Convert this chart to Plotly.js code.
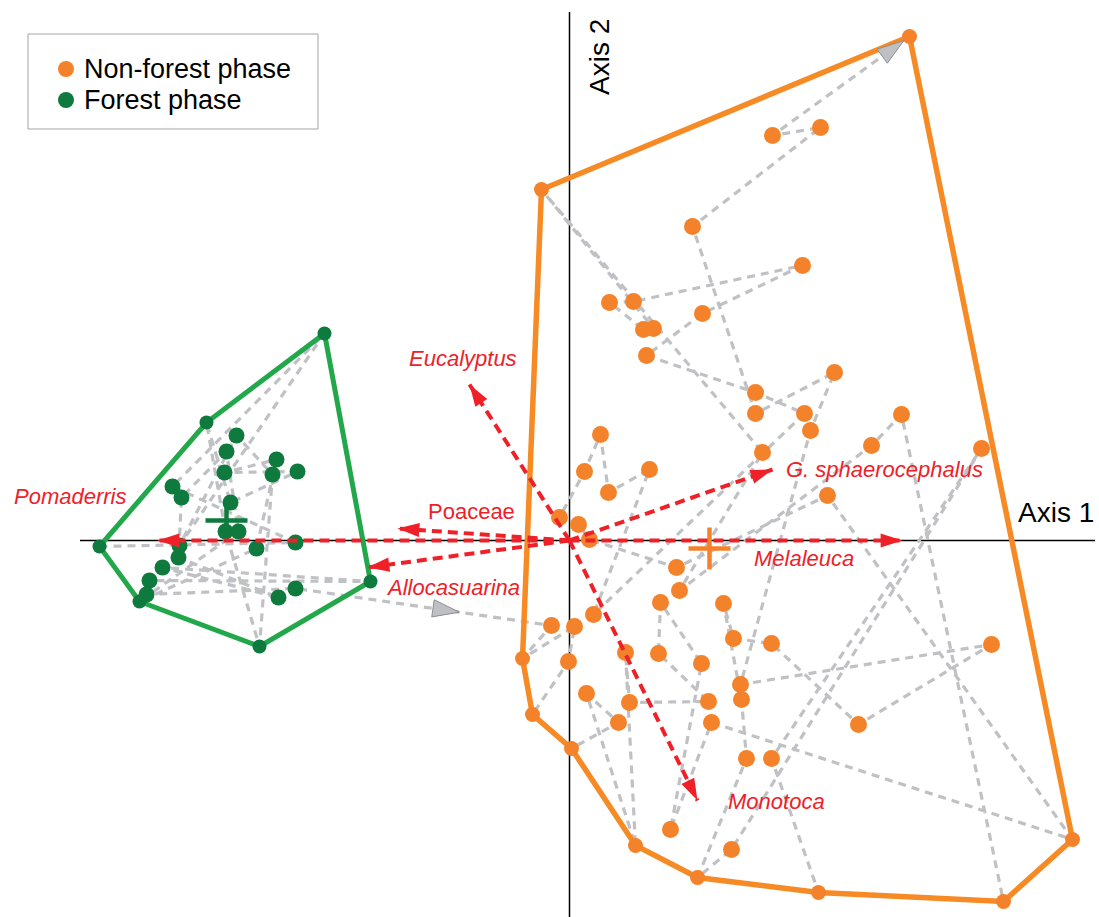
<!DOCTYPE html>
<html>
<head>
<meta charset="utf-8">
<script src="https://cdn.plot.ly/plotly-3.0.1.min.js"></script>
<style>
  html, body { margin: 0; padding: 0; background: #fff; }
  #chart { width: 1099px; height: 917px; }
</style>
</head>
<body>
<div id="chart"></div>
<script>
// Ordination scores of the core samples, listed in stratigraphic order.
// Non-forest phase (axis 1, axis 2)
const nonForestAxis1 = [-0.18, -0.47, 0.05, -0.01, -0.37, 0.02, 0.49, 0.17, 0.66, 0.56,
  0.60, 1.39, 0.89, 0.91, 1.32, 1.01, 1.42, 5.03, 2.58, 1.07,
  0.20, 0.09, -0.10, 0.15, 0.31, 0.39, 0.80, 0.24, 2.35, 1.86,
  0.77, 1.33, 2.33, 0.64, 0.40, 0.74, 0.84, -0.28, 1.93, 1.10,
  3.02, 3.32, 4.34, 2.49, 2.02, 4.12, 1.62, 1.28, 1.77, 1.72,
  1.54, 1.64, 2.02, 2.89, 4.22, 1.71, 2.41, 2.65, 1.86, 1.23,
  2.51, 2.03, 3.40];
const nonForestAxis2 = [-0.85, -1.18, -0.86, -1.21, -1.74, -2.08, -1.82, -1.53, -3.05, -1.12,
  -1.62, -1.61, -1.13, -0.62, -1.23, -2.89, -1.82, -2.99, 0.45, -0.27,
  0.01, 0.16, 0.23, 0.69, 1.06, 0.48, 0.71, -0.74, 1.27, 1.48,
  1.85, 2.27, 2.75, 2.39, 2.38, 2.11, 2.12, 3.51, 0.88, -0.50,
  0.95, 1.26, -3.61, -3.52, -2.18, 0.92, -3.09, -3.37, -2.18, -1.59,
  -0.63, -0.98, -1.03, -1.84, -1.04, -1.44, 1.10, 1.68, 1.27, 3.14,
  4.13, 4.05, 5.04];

// Forest phase (axis 1, axis 2)
const forestAxis1 = [-4.70, -2.74, -3.97, -2.45, -3.90, -3.33, -2.97, -3.10, -3.44, -3.63,
  -3.39, -2.72, -3.45, -2.93, -3.13, -4.30, -3.31, -3.43, -3.88, -3.91,
  -2.91, -4.07, -1.99, -4.20, -4.23, -2.74];
const forestAxis2 = [-0.06, -0.02, 0.54, 2.07, -0.05, 1.05, 0.66, -1.06, 0.09, 1.18,
  0.38, 0.69, 0.68, 0.81, -0.08, -0.61, 0.09, 0.89, 0.43, -0.17,
  -0.57, -0.27, -0.41, -0.40, -0.54, -0.48];

// Samples forming the convex hull of each phase (indices into the lists above)
const nonForestHull = [62, 37, 1, 4, 5, 8, 47, 43, 42, 17];
const forestHull = [3, 22, 7, 15, 0, 9];

// Phase names and centroids: [non-forest, forest]
const phases = ['Non-forest phase', 'Forest phase'];
const centroidAxis1 = [1.40, -3.43];
const centroidAxis2 = [-0.08, 0.20];

// Taxon vectors
const taxa = ['Eucalyptus', 'Poaceae', 'Allocasuarina', 'Pomaderris', 'G. sphaerocephalus', 'Melaleuca', 'Monotoca'];
const taxonAxis1 = [-1.00, -1.72, -2.02, -4.12, 2.03, 3.33, 1.28];
const taxonAxis2 = [1.56, 0.12, -0.27, 0.00, 0.71, 0.00, -2.60];

// ---------------------------------------------------------------- layout
const W = 1099, H = 917;
const xRange = [-5.695, 5.295];
const yRange = [-3.765, 5.405];
const pxX = W / (xRange[1] - xRange[0]);
const pxY = H / (yRange[1] - yRange[0]);

const ORANGE = '#f4822a';
const ORANGE_HULL = '#f68b26';
const GREEN = '#0f7a3d';
const GREEN_HULL = '#22a84b';
const GREY = '#c0c1c4';
const RED = '#ee2128';
const FONT = 'Liberation Sans, Arial, Helvetica, sans-serif';
const phaseColors = [ORANGE, GREEN];

// label placement relative to each vector tip, in pixels [right, up]
const labelShift = {
  'Eucalyptus': [-7, 26],
  'Poaceae': [74, 17],
  'Allocasuarina': [85, -20],
  'Pomaderris': [-88, 44],
  'G. sphaerocephalus': [112, 0],
  'Melaleuca': [-99, -18],
  'Monotoca': [79, -1]
};
const uprightLabels = new Set(['Poaceae']);

// clockwise angle from "up" for a screen direction given in data units
function headAngle(dx, dy) {
  return Math.atan2(dx * pxX, dy * pxY) * 180 / Math.PI;
}

function hullPath(xs, ys, idx) {
  const px = idx.map(i => xs[i]);
  const py = idx.map(i => ys[i]);
  px.push(px[0]); py.push(py[0]);
  return { x: px, y: py };
}

const traces = [];

// sample trajectory: forest samples first, then on into the non-forest phase
const trajX = forestAxis1.concat(nonForestAxis1);
const trajY = forestAxis2.concat(nonForestAxis2);
traces.push({
  type: 'scatter', mode: 'lines', x: trajX, y: trajY,
  line: { color: GREY, width: 3.2, dash: '8px,6px' },
  hoverinfo: 'skip', showlegend: false
});

// convex hulls
const gh = hullPath(forestAxis1, forestAxis2, forestHull);
traces.push({
  type: 'scatter', mode: 'lines', x: gh.x, y: gh.y,
  line: { color: GREEN_HULL, width: 5 }, showlegend: false, hoverinfo: 'skip'
});
const oh = hullPath(nonForestAxis1, nonForestAxis2, nonForestHull);
traces.push({
  type: 'scatter', mode: 'lines', x: oh.x, y: oh.y,
  line: { color: ORANGE_HULL, width: 5.5 }, showlegend: false, hoverinfo: 'skip'
});

// direction arrows on the trajectory: phase change, and the final step
const lastF = forestAxis1.length - 1;
const bx0 = forestAxis1[lastF], by0 = forestAxis2[lastF];
const bx1 = nonForestAxis1[0], by1 = nonForestAxis2[0];
const tB = 0.64;
const n = nonForestAxis1.length;
const ex0 = nonForestAxis1[n - 2], ey0 = nonForestAxis2[n - 2];
const ex1 = nonForestAxis1[n - 1], ey1 = nonForestAxis2[n - 1];
const segPx = Math.hypot((ex1 - ex0) * pxX, (ey1 - ey0) * pxY);
const tE = 1 - 7 / segPx;

// sample points
const nfSizes = nonForestAxis1.map((_, i) => nonForestHull.includes(i) ? 15 : 17);
const fSizes = forestAxis1.map((_, i) => forestHull.includes(i) ? 14 : 16);
traces.push({
  type: 'scatter', mode: 'markers', name: phases[0],
  x: nonForestAxis1, y: nonForestAxis2,
  marker: { color: ORANGE, size: nfSizes, opacity: 1, line: { width: 0 } },
  showlegend: false
});
traces.push({
  type: 'scatter', mode: 'markers', name: phases[1],
  x: forestAxis1, y: forestAxis2,
  marker: { color: GREEN, size: fSizes, opacity: 1, line: { width: 0 } },
  showlegend: false
});

// centroids
traces.push({
  type: 'scatter', mode: 'markers', x: centroidAxis1, y: centroidAxis2,
  marker: { symbol: 'cross-thin', size: 30, opacity: 1, line: { width: 4.5, color: phaseColors } },
  showlegend: false, hoverinfo: 'skip'
});

traces.push({
  type: 'scatter', mode: 'markers',
  x: [bx0 + (bx1 - bx0) * tB, ex0 + (ex1 - ex0) * tE],
  y: [by0 + (by1 - by0) * tB, ey0 + (ey1 - ey0) * tE],
  marker: {
    symbol: 'arrow', size: 28, color: '#bfc0c3', opacity: 1,
    angle: [headAngle(bx1 - bx0, by1 - by0), headAngle(ex1 - ex0, ey1 - ey0)],
    line: { color: '#8d8e92', width: 1 }
  },
  showlegend: false, hoverinfo: 'skip'
});

// taxon vectors from the origin
taxa.forEach((t, i) => {
  traces.push({
    type: 'scatter', mode: 'lines', x: [0, taxonAxis1[i]], y: [0, taxonAxis2[i]],
    line: { color: RED, width: 4, dash: '10px,6px' },
    showlegend: false, hoverinfo: 'skip'
  });
});
traces.push({
  type: 'scatter', mode: 'markers', x: taxonAxis1, y: taxonAxis2,
  marker: {
    symbol: 'arrow', size: 23, color: RED, opacity: 1,
    angle: taxonAxis1.map((x, i) => headAngle(x, taxonAxis2[i])),
    line: { width: 0 }
  },
  showlegend: false, hoverinfo: 'skip'
});

const annotations = taxa.map((t, i) => ({
  x: taxonAxis1[i], y: taxonAxis2[i], xref: 'x', yref: 'y',
  text: t, showarrow: false,
  xshift: labelShift[t][0], yshift: labelShift[t][1],
  xanchor: 'center', yanchor: 'middle',
  font: { family: FONT, size: 22, color: RED, style: uprightLabels.has(t) ? 'normal' : 'italic' }
}));
annotations.push({
  xref: 'paper', yref: 'paper', x: 1016 / W, y: 1 - 512 / H,
  text: 'Axis 1', showarrow: false, xanchor: 'left', yanchor: 'middle',
  font: { family: FONT, size: 28, color: '#000' }
});
annotations.push({
  xref: 'paper', yref: 'paper', x: 600 / W, y: 1 - 57 / H,
  text: 'Axis 2', showarrow: false, xanchor: 'center', yanchor: 'middle', textangle: -90,
  font: { family: FONT, size: 28, color: '#000' }
});

// key box (pixel geometry)
const key = { left: 28, top: 34, right: 318, bottom: 129, dotX: 66, rowY: [69, 100], dotR: 8, textX: 82 };
const shapes = [
  { type: 'line', layer: 'below', xref: 'x', yref: 'y', x0: -4.895, x1: 5.255, y0: 0, y1: 0,
    line: { color: '#000', width: 1.5 } },
  { type: 'line', layer: 'below', xref: 'x', yref: 'y', x0: 0, x1: 0, y0: yRange[0], y1: 5.285,
    line: { color: '#000', width: 1.5 } },
  { type: 'rect', xref: 'paper', yref: 'paper',
    x0: key.left / W, x1: key.right / W, y0: 1 - key.bottom / H, y1: 1 - key.top / H,
    fillcolor: '#fff', line: { color: '#a4a4a4', width: 1 } }
];
phases.forEach((p, i) => {
  const cy = key.rowY[i];
  shapes.push({
    type: 'circle', xref: 'paper', yref: 'paper',
    x0: (key.dotX - key.dotR) / W, x1: (key.dotX + key.dotR) / W,
    y0: 1 - (cy + key.dotR) / H, y1: 1 - (cy - key.dotR) / H,
    fillcolor: phaseColors[i], line: { width: 0 }
  });
  annotations.push({
    xref: 'paper', yref: 'paper', x: key.textX / W, y: 1 - cy / H,
    text: p, showarrow: false, xanchor: 'left', yanchor: 'middle',
    font: { family: FONT, size: 27, color: '#000' }
  });
});

const layout = {
  width: W, height: H,
  margin: { l: 0, r: 0, t: 0, b: 0, pad: 0 },
  paper_bgcolor: '#fff', plot_bgcolor: '#fff',
  xaxis: { range: xRange, visible: false, fixedrange: true },
  yaxis: { range: yRange, visible: false, fixedrange: true },
  showlegend: false,
  shapes: shapes,
  annotations: annotations
};

Plotly.newPlot('chart', traces, layout, { staticPlot: true, displayModeBar: false });
</script>
</body>
</html>
